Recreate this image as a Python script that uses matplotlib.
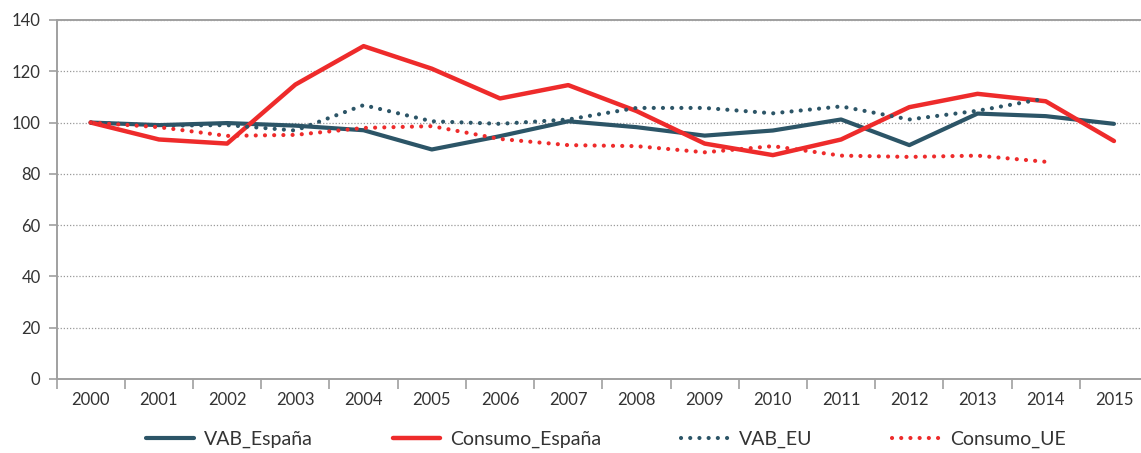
import numpy as np
import matplotlib
matplotlib.use("Agg")
import matplotlib.pyplot as plt

plt.rcParams['font.family'] = ['Lato', 'DejaVu Sans']

# series, index base 2000 = 100
years = [str(y) for y in range(2000, 2016)]
vab_espana = [100, 99.0, 99.8, 98.8, 97.0, 89.5, 94.7, 100.5, 98.2, 94.9, 96.9, 101.2, 91.2, 103.5, 102.5, 99.5]
consumo_espana = [100, 93.4, 91.8, 114.8, 129.8, 121.0, 109.4, 114.6, 104.5, 91.8, 87.3, 93.4, 106.0, 111.2, 108.3, 92.8]
vab_eu = [100, 98.8, 99.0, 96.9, 106.8, 100.5, 99.5, 101.2, 105.7, 105.7, 103.6, 106.3, 101.2, 104.6, 109.4]
consumo_ue = [100, 98.2, 94.8, 95.2, 97.9, 98.6, 93.6, 91.2, 90.8, 88.4, 90.8, 87.1, 86.6, 87.1, 84.7]

teal = '#2c5567'
red = '#ee2b2b'
dots = (0, (0.01, 2.2))

fig = plt.figure(figsize=(11.41, 4.53), dpi=100)
ax = fig.add_axes([0.0496, 0.1634, 0.9566, 0.7925])

x = np.arange(len(years))
ax.plot(x, vab_espana, color=teal, lw=3.0, solid_capstyle='round', label='VAB_España')
ax.plot(x, consumo_espana, color=red, lw=3.2, solid_capstyle='round', label='Consumo_España')
ax.plot(x[:len(vab_eu)], vab_eu, color=teal, lw=3.0, linestyle=dots,
        dash_capstyle='round', label='VAB_EU')
ax.plot(x[:len(consumo_ue)], consumo_ue, color=red, lw=3.0, linestyle=dots,
        dash_capstyle='round', label='Consumo_UE')

ax.set_xlim(-0.5, len(years) - 0.5)
ax.set_ylim(0, 140)
ax.set_yticks(np.arange(0, 141, 20))
ax.yaxis.grid(True, color='#999999', linestyle=(0, (1, 1.5)), lw=0.9)
ax.set_axisbelow(True)

# category boundaries as ticks, labels at centres
ax.set_xticks(np.arange(-0.5, len(years), 1))
ax.set_xticklabels([])
ax.set_xticks(x, minor=True)
ax.set_xticklabels(years, minor=True)
ax.tick_params(axis='x', which='major', length=7, width=1.2, color='#a0a0a0')
ax.tick_params(axis='x', which='minor', length=0, pad=9.5, labelsize=12, labelcolor='#333333')
ax.tick_params(axis='y', length=5.5, width=1.2, color='#a0a0a0', pad=6,
               labelsize=12, labelcolor='#333333')

for side in ['left', 'bottom', 'top']:
    ax.spines[side].set_color('#a0a0a0')
    ax.spines[side].set_linewidth(1.4)
ax.spines['right'].set_visible(False)

leg = fig.legend(loc='center', bbox_to_anchor=(0.531, 0.029), ncol=4, frameon=False,
                 fontsize=14, handlelength=2.45, handletextpad=0.52, columnspacing=4.1,
                 labelcolor='#333333')

fig.savefig('out.png', dpi=100)
